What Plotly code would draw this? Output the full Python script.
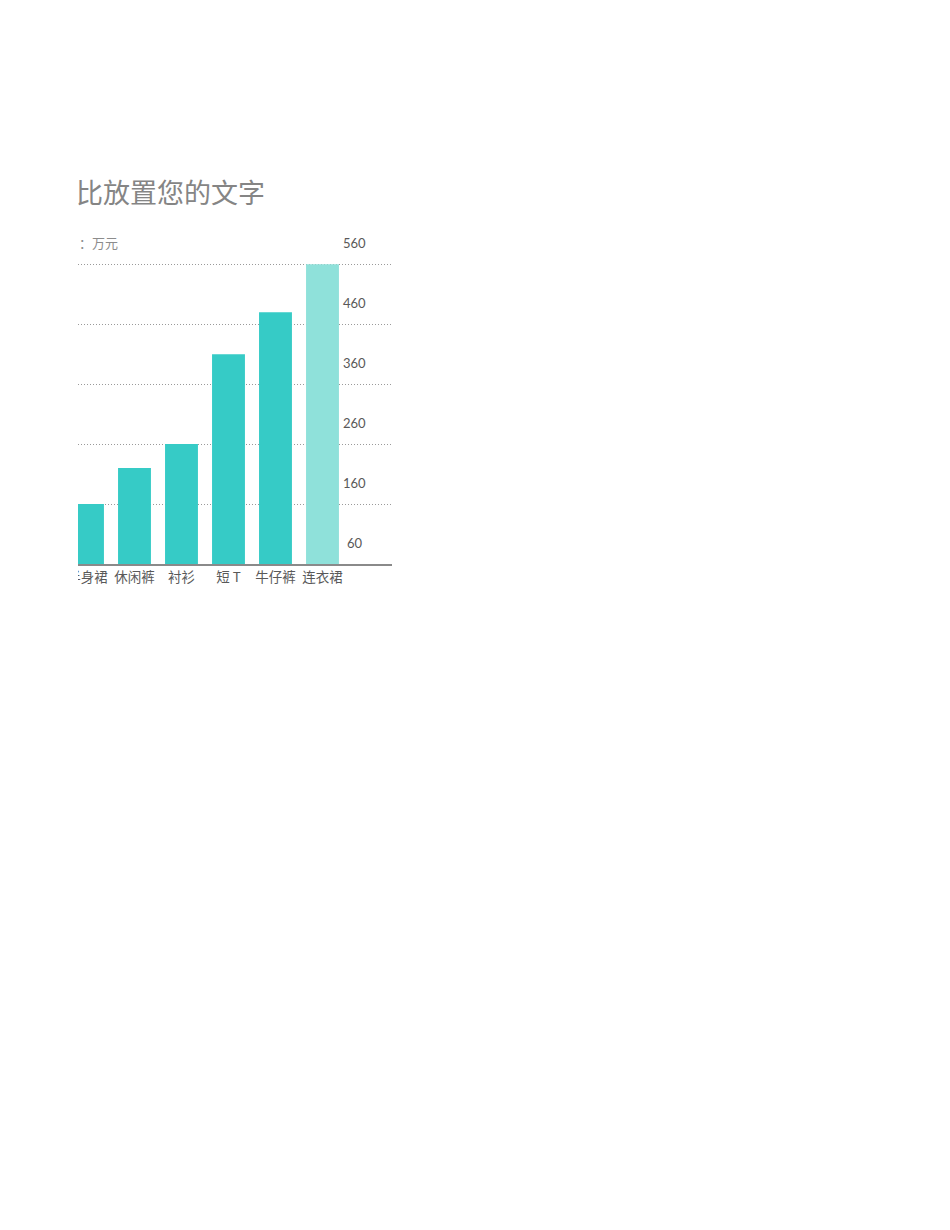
import plotly.graph_objects as go

# data
categories = ["半身裙", "休闲裤", "衬衫", "短 T", "牛仔裤", "连衣裙"]
sales = [160, 220, 260, 410, 480, 560]
bar_colors = ["#36cbc6", "#36cbc6", "#36cbc6", "#36cbc6", "#36cbc6", "#8fe1da"]
tick_values = [60, 160, 260, 360, 460, 560]
tick_labels = ["60", "160", "260", "360", "460", "560"]

FONT = "Lato, 'Noto Sans CJK SC', sans-serif"
CJK = "'Noto Sans CJK SC', sans-serif"

fig = go.Figure(go.Bar(
    x=categories,
    y=sales,
    marker=dict(color=bar_colors, line=dict(width=0)),
    width=0.70,
    hovertemplate="%{x}: %{y}<extra></extra>",
))

# value labels sit above their gridlines, so they are placed as annotations
annotations = [
    dict(
        text=lab, x=0.882, xref="paper", y=v, yref="y", yshift=21,
        xanchor="center", yanchor="middle", showarrow=False,
        font=dict(family=FONT, size=13, color="#595959"),
    )
    for v, lab in zip(tick_values, tick_labels)
]
annotations += [
    dict(
        text="比放置您的文字", x=-0.012, xref="paper", y=1.237, yref="paper",
        xanchor="left", yanchor="middle", showarrow=False,
        font=dict(family=CJK, size=27, color="#858585"),
    ),
    dict(
        text="：万元", x=-0.003, xref="paper", y=1.069, yref="paper",
        xanchor="left", yanchor="middle", showarrow=False,
        font=dict(family=CJK, size=13, color="#8c8c8c"),
    ),
]

fig.update_layout(
    width=950,
    height=1230,
    paper_bgcolor="white",
    plot_bgcolor="white",
    margin=dict(l=70, r=566, t=255, b=674),
    showlegend=False,
    annotations=annotations,
    # hide the part of the first category label that falls left of the frame
    shapes=[dict(
        type="rect", xref="paper", yref="paper", x0=-0.3, x1=0, y0=-0.2, y1=-0.005,
        fillcolor="white", line=dict(width=0), layer="above",
    )],
    xaxis=dict(
        range=[-0.202, 6.479],
        showgrid=False,
        showline=True, linecolor="#8a8a8a", linewidth=2,
        ticks="", zeroline=False,
        tickfont=dict(family=CJK, size=13.5, color="#595959"),
    ),
    yaxis=dict(
        range=[60, 562],
        tickvals=tick_values,
        showticklabels=False,
        showgrid=True, gridcolor="#9a9a9a", gridwidth=1, griddash="1px,2px",
        zeroline=False, showline=False, ticks="",
    ),
)

fig.write_html("out.html")
